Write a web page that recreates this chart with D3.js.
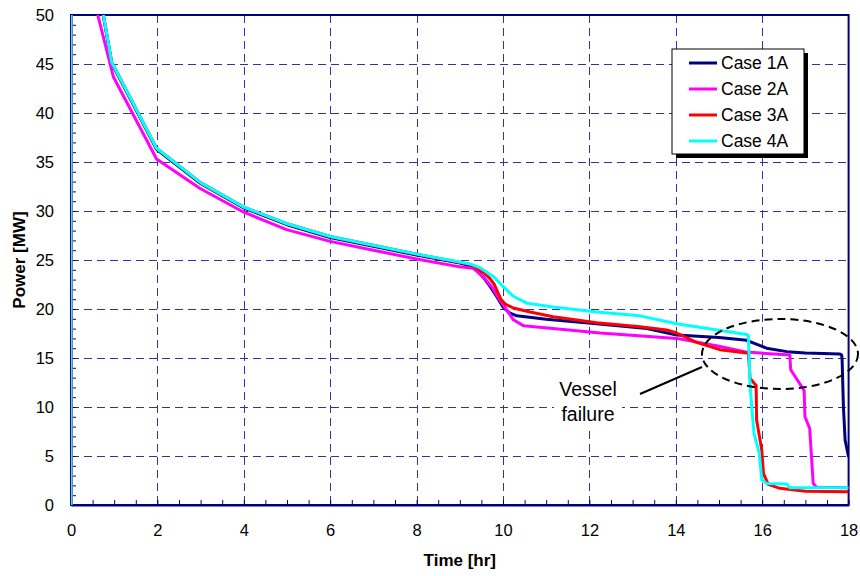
<!DOCTYPE html>
<html>
<head>
<meta charset="utf-8">
<script src="https://cdn.jsdelivr.net/npm/d3@7"></script>
<style>
  body { margin: 0; background: #fff; }
  svg { font-family: Arial, "Liberation Sans", sans-serif; }
</style>
</head>
<body>
<script>
// Time (hr) and power (MW), one pair of arrays per case
const case1ATime  = [0, 0, 0.45, 0.75, 0.94, 1.98, 3.0, 4.0, 5.0, 6.0, 7.0, 8.0, 9.0, 9.24, 9.39, 9.55, 9.7, 9.85, 10.0, 10.15, 10.32, 11.0, 12.17, 13.33, 14.02, 15.0, 15.64, 16.1, 16.57, 17.0, 17.8, 17.84, 17.85, 17.88, 17.92, 18.0];
const case1APower = [0, 100, 65, 49.9, 45.1, 36.3, 32.8, 30.3, 28.6, 27.3, 26.4, 25.5, 24.7, 24.4, 24.0, 23.2, 22.3, 21.3, 20.2, 19.6, 19.3, 18.95, 18.5, 18.0, 17.35, 17.1, 16.8, 16.0, 15.65, 15.5, 15.4, 15.3, 14.8, 10.0, 6.6, 4.9];

const case2ATime  = [0, 0, 0.35, 0.62, 0.98, 1.98, 2.99, 3.99, 4.99, 6.0, 7.0, 8.0, 9.0, 9.31, 9.54, 9.75, 9.93, 10.24, 10.47, 11.4, 12.25, 14.02, 15.0, 15.64, 16.64, 16.66, 16.97, 16.99, 17.1, 17.18, 17.26, 18.0];
const case2APower = [0, 100, 64, 50, 43.7, 35.3, 32.3, 29.9, 28.1, 26.9, 26.0, 25.1, 24.3, 24.15, 23.3, 22.2, 20.9, 18.9, 18.3, 17.9, 17.55, 17.0, 16.2, 15.6, 15.3, 13.8, 11.7, 9.0, 7.8, 2.2, 1.8, 1.75];

const case3ATime  = [0, 0, 0.45, 0.75, 0.94, 1.98, 3.0, 4.0, 5.0, 6.0, 7.0, 8.0, 9.0, 9.24, 9.38, 9.55, 9.7, 9.8, 9.88, 9.95, 10.05, 10.24, 10.63, 11.16, 12.17, 13.17, 13.79, 14.02, 14.48, 15.02, 15.64, 15.68, 15.72, 15.86, 15.87, 15.99, 16.03, 16.14, 16.41, 17.0, 18.0];
const case3APower = [0, 100, 65, 50, 45.2, 36.4, 32.9, 30.4, 28.7, 27.4, 26.5, 25.6, 24.75, 24.55, 24.2, 23.7, 23.1, 22.5, 21.7, 21.0, 20.5, 20.1, 19.7, 19.2, 18.6, 18.2, 17.86, 17.55, 16.6, 15.85, 15.5, 15.6, 12.9, 12.2, 8.7, 5.6, 3.2, 2.1, 1.7, 1.4, 1.35];

const case4ATime  = [0, 0, 0.45, 0.75, 0.94, 1.98, 3.0, 4.0, 5.0, 6.0, 7.0, 8.0, 9.0, 9.24, 9.47, 9.78, 10.0, 10.24, 10.55, 11.16, 12.17, 13.17, 14.02, 15.64, 15.68, 15.72, 15.81, 15.93, 15.99, 16.1, 16.57, 16.64, 18.0];
const case4APower = [0, 100, 65, 50, 45.2, 36.4, 32.9, 30.4, 28.7, 27.4, 26.5, 25.6, 24.8, 24.6, 24.2, 23.3, 22.3, 21.3, 20.6, 20.2, 19.7, 19.3, 18.5, 17.4, 17.3, 12.1, 7.3, 5.3, 2.6, 2.2, 2.15, 1.75, 1.75];

const caseNames  = ["Case 1A", "Case 2A", "Case 3A", "Case 4A"];
const caseColors = ["#000080", "#FF00FF", "#FF0000", "#00FFFF"];
const caseTimes  = [case1ATime, case2ATime, case3ATime, case4ATime];
const casePowers = [case1APower, case2APower, case3APower, case4APower];

const xMajorTicks = [0, 2, 4, 6, 8, 10, 12, 14, 16, 18];
const yMajorTicks = [0, 5, 10, 15, 20, 25, 30, 35, 40, 45, 50];

// Canvas set-up
const w = 860, h = 576;
const plotLeft = 71, plotRight = 848.6, plotTop = 15, plotBottom = 505;

const svg = d3.select("body").append("svg")
  .attr("width", w)
  .attr("height", h);

const xScale = d3.scaleLinear().domain([0, 18]).range([plotLeft, plotRight]);
const yScale = d3.scaleLinear().domain([0, 50]).range([plotBottom, plotTop]);

// Dashed grid
const grid = svg.append("g").attr("stroke", "#333399").attr("stroke-width", 1).attr("stroke-dasharray", "8,5");
grid.selectAll(".gx").data(xMajorTicks.slice(1, -1)).enter().append("line")
  .attr("x1", d => Math.round(xScale(d)) + 0.5).attr("x2", d => Math.round(xScale(d)) + 0.5)
  .attr("y1", plotTop).attr("y2", plotBottom);
grid.selectAll(".gy").data(yMajorTicks.slice(1, -1)).enter().append("line")
  .attr("x1", plotLeft).attr("x2", plotRight)
  .attr("y1", d => Math.round(yScale(d)) + 0.5).attr("y2", d => Math.round(yScale(d)) + 0.5);

// Box around the plot
svg.append("rect")
  .attr("x", plotLeft).attr("y", plotTop)
  .attr("width", plotRight - plotLeft).attr("height", plotBottom - plotTop)
  .attr("fill", "none").attr("stroke", "#000080").attr("stroke-width", 2);

// Axes, ticks pointing inwards
const xAxis = svg.append("g")
  .attr("transform", `translate(0, ${plotBottom})`)
  .call(d3.axisBottom(xScale)
    .tickValues(d3.range(0, 18.01, 0.5))
    .tickSizeInner(-5).tickSizeOuter(0).tickPadding(19)
    .tickFormat(d => xMajorTicks.includes(d) ? d : ""));

const yAxis = svg.append("g")
  .attr("transform", `translate(${plotLeft}, 0)`)
  .call(d3.axisLeft(yScale)
    .tickValues(d3.range(0, 50.01, 1))
    .tickSizeInner(-5).tickSizeOuter(0).tickPadding(17)
    .tickFormat(d => yMajorTicks.includes(d) ? d : ""));

[xAxis, yAxis].forEach(a => {
  a.select(".domain").attr("stroke", "#000080").attr("stroke-width", 2);
  a.selectAll(".tick line").attr("stroke", "#000080").attr("stroke-width", 1);
  a.selectAll(".tick text").attr("fill", "#000").style("font-size", "16.5px")
    .style("font-family", "Arial, 'Liberation Sans', sans-serif");
});

// Axis titles
svg.append("text")
  .attr("x", (plotLeft + plotRight) / 2).attr("y", 566)
  .attr("text-anchor", "middle")
  .style("font-size", "17px").style("font-weight", "bold")
  .text("Time [hr]");

svg.append("text")
  .attr("transform", `translate(25, ${(plotTop + plotBottom) / 2}) rotate(-90)`)
  .attr("text-anchor", "middle")
  .style("font-size", "17px").style("font-weight", "bold")
  .text("Power [MW]");

// Lines, clipped to the plot area
svg.append("clipPath").attr("id", "plot-clip")
  .append("rect").attr("x", plotLeft).attr("y", plotTop)
  .attr("width", plotRight - plotLeft).attr("height", plotBottom - plotTop);

const line = d3.line().x(d => xScale(d[0])).y(d => yScale(d[1]));

const series = caseNames.map((name, i) => ({
  name: name,
  color: caseColors[i],
  points: caseTimes[i].map((t, j) => [t, casePowers[i][j]])
}));

svg.append("g").attr("clip-path", "url(#plot-clip)")
  .selectAll("path").data(series).enter().append("path")
  .attr("d", d => line(d.points))
  .attr("fill", "none")
  .attr("stroke", d => d.color)
  .attr("stroke-width", 3)
  .attr("stroke-linejoin", "round");

// Annotation: ellipse, leader and label
svg.append("ellipse")
  .attr("cx", 780).attr("cy", 354).attr("rx", 78).attr("ry", 35)
  .attr("fill", "none").attr("stroke", "#000").attr("stroke-width", 2)
  .attr("stroke-dasharray", "8,5");

svg.append("line")
  .attr("x1", 640).attr("y1", 394).attr("x2", 702).attr("y2", 367)
  .attr("stroke", "#000").attr("stroke-width", 2);

svg.append("rect")
  .attr("x", 554).attr("y", 377).attr("width", 68).attr("height", 50)
  .attr("fill", "#fff");

const note = svg.append("text")
  .attr("text-anchor", "middle")
  .style("font-size", "19.5px");
note.append("tspan").attr("x", 588).attr("y", 396).text("Vessel");
note.append("tspan").attr("x", 588).attr("y", 421).text("failure");

// Legend with drop shadow
const legend = svg.append("g").attr("transform", "translate(672, 49)");
legend.append("rect").attr("x", 4).attr("y", 4).attr("width", 132).attr("height", 105).attr("fill", "#000");
legend.append("rect").attr("width", 132).attr("height", 105)
  .attr("fill", "#fff").attr("stroke", "#000").attr("stroke-width", 1);

series.forEach((s, i) => {
  const cy = 14 + i * 26;
  legend.append("line")
    .attr("x1", 17).attr("x2", 45).attr("y1", cy).attr("y2", cy)
    .attr("stroke", s.color).attr("stroke-width", 3);
  legend.append("text")
    .attr("x", 49).attr("y", cy + 6)
    .style("font-size", "17.5px")
    .text(s.name);
});
</script>
</body>
</html>
